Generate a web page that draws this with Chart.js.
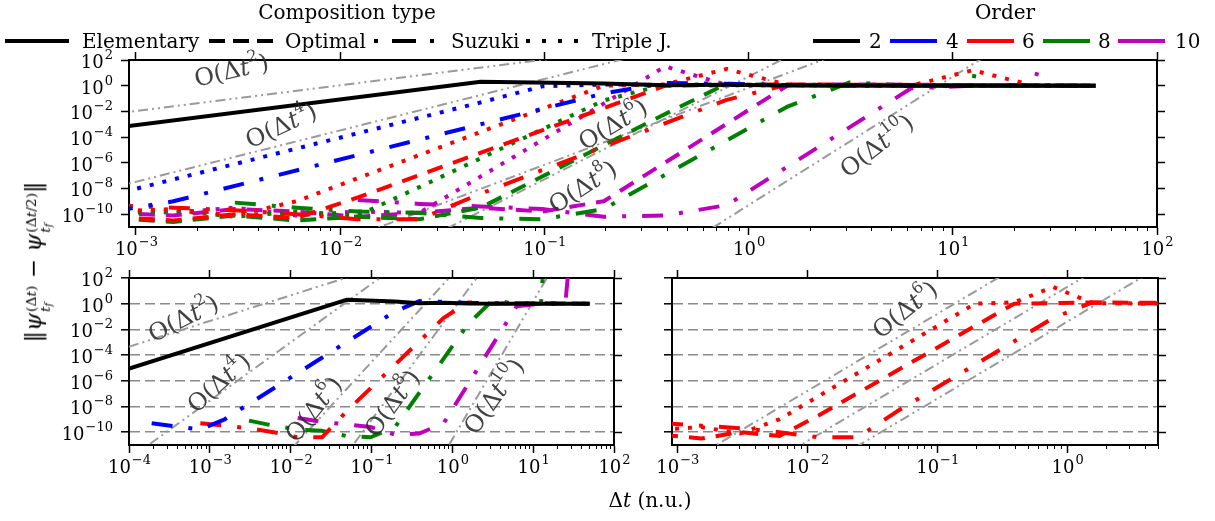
<!DOCTYPE html>
<html>
<head>
<meta charset="utf-8">
<script src="https://cdn.jsdelivr.net/npm/chart.js@4.4.1/dist/chart.umd.min.js"></script>
<style>
  body { margin: 0; background: #fff; font-family: "DejaVu Serif", "Liberation Serif", serif; }
  #wrap { position: relative; width: 1215px; height: 521px; overflow: hidden; }
  canvas { position: absolute; }
  .t { position: absolute; font-size: 20px; line-height: 1; white-space: nowrap; color: #000; }
  .h { position: absolute; }
  .st { display: inline-flex; flex-direction: column; font-size: 0.6em; line-height: 1.05; vertical-align: 0.38em; margin-left: 1px; }
  .st sub { font-size: 0.75em; vertical-align: -0.2em; }
</style>
</head>
<body>
<div id="wrap">
  <canvas id="cTop" width="1215" height="265" style="left:0;top:0"></canvas>
  <canvas id="cLeft" width="640" height="256" style="left:0;top:265px"></canvas>
  <canvas id="cRight" width="575" height="256" style="left:640px;top:265px"></canvas>

  <!-- composition legend -->
  <div class="t" style="left:347px;top:12px;transform:translate(-50%,-50%)">Composition type</div>
  <svg class="h" style="left:5px;top:36px" width="64" height="10"><line x1="0" y1="5" x2="64" y2="5" stroke="#000" stroke-width="4"/></svg>
  <div class="t" style="left:82px;top:41px;transform:translateY(-50%)">Elementary</div>
  <svg class="h" style="left:209px;top:36px" width="64" height="10"><line x1="0" y1="5" x2="64" y2="5" stroke="#000" stroke-width="4" stroke-dasharray="16 8"/></svg>
  <div class="t" style="left:285px;top:41px;transform:translateY(-50%)">Optimal</div>
  <svg class="h" style="left:374px;top:36px" width="64" height="10"><line x1="0" y1="5" x2="60" y2="5" stroke="#000" stroke-width="4" stroke-dasharray="4 14 24 14 4 20"/></svg>
  <div class="t" style="left:451px;top:41px;transform:translateY(-50%)">Suzuki</div>
  <svg class="h" style="left:526px;top:36px" width="64" height="10"><line x1="0" y1="5" x2="52" y2="5" stroke="#000" stroke-width="4" stroke-dasharray="4 12"/></svg>
  <div class="t" style="left:592px;top:41px;transform:translateY(-50%)">Triple J.</div>

  <!-- order legend -->
  <div class="t" style="left:1005px;top:12px;transform:translate(-50%,-50%)">Order</div>
  <svg class="h" style="left:813px;top:36px" width="47" height="10"><line x1="0" y1="5" x2="47" y2="5" stroke="#000000" stroke-width="4"/></svg>
  <div class="t" style="left:869px;top:41px;transform:translateY(-50%)">2</div>
  <svg class="h" style="left:890px;top:36px" width="47" height="10"><line x1="0" y1="5" x2="47" y2="5" stroke="#0000ff" stroke-width="4"/></svg>
  <div class="t" style="left:946px;top:41px;transform:translateY(-50%)">4</div>
  <svg class="h" style="left:967px;top:36px" width="47" height="10"><line x1="0" y1="5" x2="47" y2="5" stroke="#ff0000" stroke-width="4"/></svg>
  <div class="t" style="left:1022px;top:41px;transform:translateY(-50%)">6</div>
  <svg class="h" style="left:1043px;top:36px" width="47" height="10"><line x1="0" y1="5" x2="47" y2="5" stroke="#008000" stroke-width="4"/></svg>
  <div class="t" style="left:1098px;top:41px;transform:translateY(-50%)">8</div>
  <svg class="h" style="left:1118px;top:36px" width="47" height="10"><line x1="0" y1="5" x2="47" y2="5" stroke="#bf00bf" stroke-width="4"/></svg>
  <div class="t" style="left:1175px;top:41px;transform:translateY(-50%)">10</div>

  <!-- axis titles -->
  <div class="t" style="left:38px;top:262px;font-size:23px;transform:translate(-50%,-50%) rotate(-90deg)">‖<i>ψ</i><span class="st"><span>(Δ<i>t</i>)</span><span><i>t<sub>f</sub></i></span></span> − <i>ψ</i><span class="st"><span>(Δ<i>t</i>/2)</span><span><i>t<sub>f</sub></i></span></span>‖</div>
  <div class="t" style="left:650px;top:500px;transform:translate(-50%,-50%)">Δ<i>t</i> (n.u.)</div>
</div>

<script>
// time steps (n.u.) and errors
const dtElem = [9.537e-5, 0.04883, 0.1953, 0.3906, 0.7813, 1.5625, 6.25, 50];
const errElem = [7.9e-6, 2.0, 1.5, 1.1, 1.2, 1.05, 1.0, 1.0];

const dtSuz4 = [1.907e-4, 3.815e-4, 7.629e-4, 1.526e-3, 0.1953, 0.3906, 0.7813, 1.5625, 50];
const errSuz4 = [5.0e-10, 2.8e-10, 1.6e-10, 1.0e-9, 0.25, 1.6, 1.4, 1.12, 1.0];
const dtTj4 = [7.629e-4, 0.04883, 0.09766, 0.1953, 0.3906, 50];
const errTj4 = [3.2e-9, 0.05, 0.89, 1.26, 1.12, 1.0];

const dtTj6 = [7.629e-4, 1.526e-3, 3.052e-3, 6.104e-3, 0.1953, 0.3906, 0.7813, 1.5625, 6.25, 12.5, 25, 50];
const errTj6 = [1.6e-10, 2.5e-10, 7.9e-11, 1e-9, 1.0, 1.26, 20, 1.12, 1.0, 16, 1.0, 1.0];
const dtOpt6 = [7.629e-4, 1.526e-3, 3.052e-3, 6.104e-3, 0.01221, 0.3906, 0.7813, 1.5625, 50];
const errOpt6 = [6.3e-11, 3.2e-11, 1e-10, 5e-11, 2e-9, 1.0, 1.12, 1.26, 1.0];
const dtSuz6 = [7.629e-4, 1.526e-3, 3.052e-3, 6.104e-3, 0.01221, 0.02441, 0.04883, 0.7813, 1.5625, 3.125, 6.25, 50];
const errSuz6 = [5e-10, 3.2e-10, 2e-10, 1e-10, 4e-11, 4e-11, 4e-9, 0.079, 1.26, 1.0, 1.12, 1.0];

const dtTj8 = [7.629e-4, 1.526e-3, 3.052e-3, 6.104e-3, 0.01221, 0.02441, 0.1953, 0.3906, 50];
const errTj8 = [1e-10, 2e-10, 6.3e-11, 1.6e-10, 7.9e-11, 1.26e-8, 0.071, 1.26, 1.0];
const dtOpt8 = [7.629e-4, 1.526e-3, 3.052e-3, 6.104e-3, 0.01221, 0.02441, 0.04883, 0.3906, 0.7813, 1.5625, 50];
const errOpt8 = [5e-11, 2.5e-11, 7.9e-11, 3.2e-11, 6.3e-11, 4e-11, 3.2e-10, 6.3e-3, 1.41, 1.12, 1.0];
const dtSuz8 = [3.052e-3, 6.104e-3, 0.01221, 0.02441, 0.04883, 0.09766, 0.1953, 1.5625, 3.125, 6.25, 12.5, 25, 50];
const errSuz8 = [7.9e-10, 3.2e-10, 1.6e-10, 1.26e-10, 5e-11, 4e-11, 2.5e-10, 0.025, 1.78, 1.0, 1.0, 1e30, 1e60];

const dtTj10 = [7.629e-4, 1.526e-3, 3.052e-3, 6.104e-3, 0.01221, 0.02441, 0.1953, 0.3906, 0.7813, 50];
const errTj10 = [2.5e-10, 1.26e-10, 3.2e-10, 7.9e-11, 1.6e-10, 1.26e-10, 0.04, 31.6, 1.12, 1.0];
const dtOpt10 = [7.629e-4, 1.526e-3, 3.052e-3, 6.104e-3, 0.01221, 0.02441, 0.04883, 0.09766, 0.1953, 1.5625, 3.125, 50];
const errOpt10 = [1.26e-10, 7.9e-11, 2.5e-10, 1.6e-10, 6.3e-11, 1.26e-10, 3.2e-10, 1.6e-10, 1e-9, 1.12, 1.26, 1.0];
const dtSuz10 = [0.01221, 0.02441, 0.04883, 0.09766, 0.1953, 0.3906, 0.7813, 6.25, 12.5, 25, 50];
const errSuz10 = [1.26e-9, 6.3e-10, 4e-10, 2.5e-10, 6.3e-11, 7.9e-11, 5e-10, 0.63, 1.0, 1.12, 1e20];

// guide lines O(dt^p): [dt0, err0, dt1, err1]
const refTop = [[1e-4, 1.07e-4, 0.3162, 1.07e3], [3.162e-4, 3.3e-10, 0.5012, 2.09e3],
  [3.162e-3, 6.9e-16, 3.981, 2.75e3], [3.162e-3, 5e-20, 2.512, 8.3e3], [0.3162, 5e-15, 19.95, 5.0e3]];
const refLeft = [[1e-4, 4.5e-4, 0.1, 447], [1e-4, 8.1e-13, 0.1585, 275], [6.31e-3, 1.86e-13, 1.259, 912],
  [0.0398, 3.5e-13, 2.512, 708], [0.631, 2e-13, 19.95, 2512]];
const refRight = [[1e-3, 1.6e-13, 0.5012, 2512], [5.012e-3, 3.2e-13, 2.239, 2512], [0.01585, 6.3e-13, 6.31, 2512]];

// O(dt^p) labels: [dt, err, p, angle]
const notesTop = [[2.95e-3, 11.5, 2, -13], [5.19e-3, 6e-4, 4, -25], [0.219, 7.2e-4, 6, -31],
  [0.156, 1.05e-8, 8, -33], [4.3, 1.66e-5, 10, -38]];
const notesLeft = [[4.82e-4, 0.054, 2, -27], [1.34e-3, 5.5e-7, 4, -42], [0.02, 5.1e-9, 6, -52],
  [0.188, 1.5e-8, 8, -54], [3.43, 5.2e-8, 10, -55]];
const notesRight = [[0.0577, 0.27, 6, -39]];

const yRange = [1e-11, 1e2];
const yTicks = [1e2, 1, 1e-2, 1e-4, 1e-6, 1e-8, 1e-10];
const xTicksTop = [1e-3, 1e-2, 1e-1, 1, 10, 100];
const xTicksLeft = [1e-4, 1e-3, 1e-2, 1e-1, 1, 10, 100];
const xTicksRight = [1e-3, 1e-2, 1e-1, 1];

const dashOpt = [16, 11], dashSuz = [21, 16, 4, 16], dashTj = [4, 9], dashRef = [10, 4, 2, 4, 2, 4];
const FONT = '"DejaVu Serif", "Liberation Serif", serif';

function ser(dts, errs, color, dash) {
  return {
    data: dts.map(function (d, i) { return { x: d, y: errs[i] }; }),
    borderColor: color, borderWidth: 4, borderDash: dash, pointRadius: 0,
    fill: false, tension: 0, clip: 0, borderCapStyle: 'butt', borderJoinStyle: 'round'
  };
}
function refs(list) {
  return list.map(function (r) {
    var s = ser([r[0], r[2]], [r[1], r[3]], '#9a9a9a', dashRef);
    s.borderWidth = 2;
    return s;
  });
}

function minorTicks(lo, hi) {
  var out = [];
  for (var e = Math.floor(Math.log10(lo)); e < Math.ceil(Math.log10(hi)); e++) {
    for (var m = 2; m <= 9; m++) {
      var v = m * Math.pow(10, e);
      if (v >= lo && v <= hi) out.push(v);
    }
  }
  return out;
}

function setTicks(vals) {
  return function (s) { s.ticks = vals.map(function (v) { return { value: v }; }); };
}

function buildScales(xr, xMajor, sz, withGrid) {
  var tickGrid = { drawOnChartArea: false, tickLength: 8, tickWidth: 1.5, tickColor: '#000' };
  var frame = { color: '#000', width: 2 };
  return {
    x: { type: 'logarithmic', position: 'bottom', bounds: 'data', min: xr[0], max: xr[1],
         afterBuildTicks: setTicks(xMajor), afterFit: function (s) { s.height = sz.bottom; },
         ticks: { display: false }, grid: tickGrid, border: frame },
    xm: { type: 'logarithmic', axis: 'x', position: { y: yRange[0] }, bounds: 'data', min: xr[0], max: xr[1],
          afterBuildTicks: setTicks(minorTicks(xr[0], xr[1])), ticks: { display: false },
          grid: { drawOnChartArea: false, tickLength: 4, tickWidth: 1, tickColor: '#000' }, border: { display: false } },
    xt: { type: 'logarithmic', position: 'top', bounds: 'data', min: xr[0], max: xr[1],
          afterBuildTicks: setTicks(xMajor), afterFit: function (s) { s.height = sz.top; },
          ticks: { display: false }, grid: tickGrid, border: frame },
    y: { type: 'logarithmic', position: 'left', bounds: 'data', min: yRange[0], max: yRange[1],
         afterBuildTicks: setTicks(yTicks), afterFit: function (s) { s.width = sz.left; },
         ticks: { display: false },
         grid: withGrid ? {
           drawOnChartArea: true, lineWidth: 1.6, tickLength: 8, tickWidth: 1.5, tickColor: '#000',
           color: function (c) { return c.tick && c.tick.value >= 100 ? 'rgba(0,0,0,0)' : '#8a8a8a'; }
         } : tickGrid,
         border: withGrid ? { color: '#000', width: 2, dash: [10, 5] } : frame },
    yr: { type: 'logarithmic', position: 'right', bounds: 'data', min: yRange[0], max: yRange[1],
          afterBuildTicks: setTicks(yTicks), afterFit: function (s) { s.width = sz.right; },
          ticks: { display: false }, grid: tickGrid, border: frame }
  };
}

// tick labels as 10 with a raised exponent
const expTicks = {
  id: 'expTicks',
  afterDraw: function (chart, args, opts) {
    var ctx = chart.ctx;
    ctx.save();
    ctx.fillStyle = '#000';
    ctx.textAlign = 'left';
    ctx.textBaseline = 'alphabetic';
    (opts.axes || []).forEach(function (id) {
      var scale = chart.scales[id];
      scale.ticks.forEach(function (t) {
        var e = Math.round(Math.log10(t.value));
        var exp = (e < 0 ? '\u2212' : '') + Math.abs(e);
        var p = scale.getPixelForValue(t.value);
        ctx.font = '18px ' + FONT;
        var w1 = ctx.measureText('10').width;
        ctx.font = '13px ' + FONT;
        var w2 = ctx.measureText(exp).width;
        var x0, y0;
        if (scale.isHorizontal()) { x0 = p - (w1 + w2) / 2; y0 = scale.top + 28; }
        else { x0 = scale.right - 17 - w1 - w2; y0 = p + 8; }
        ctx.font = '18px ' + FONT;
        ctx.fillText('10', x0, y0);
        ctx.font = '13px ' + FONT;
        ctx.fillText(exp, x0 + w1 + 1, y0 - 9);
      });
    });
    ctx.restore();
  }
};

// rotated O(dt^p) guide labels
const refLabels = {
  id: 'refLabels',
  afterDatasetsDraw: function (chart, args, opts) {
    var ctx = chart.ctx, xs = chart.scales.x, ys = chart.scales.y;
    (opts.items || []).forEach(function (it) {
      var parts = [['O(Δ', '24px ' + FONT, 0], ['t', 'italic 24px ' + FONT, 0],
                   [String(it[2]), '16px ' + FONT, -10], [')', '24px ' + FONT, 0]];
      ctx.save();
      ctx.translate(xs.getPixelForValue(it[0]), ys.getPixelForValue(it[1]));
      ctx.rotate(it[3] * Math.PI / 180);
      ctx.fillStyle = 'rgba(45,45,45,0.9)';
      ctx.textBaseline = 'middle';
      var w = 0;
      parts.forEach(function (p) { ctx.font = p[1]; w += ctx.measureText(p[0]).width; });
      var x = -w / 2;
      parts.forEach(function (p) { ctx.font = p[1]; ctx.fillText(p[0], x, p[2]); x += ctx.measureText(p[0]).width; });
      ctx.restore();
    });
  }
};

function makeChart(id, datasets, xr, xMajor, sz, withGrid, labelAxes, notes) {
  return new Chart(document.getElementById(id), {
    type: 'line',
    data: { datasets: datasets },
    options: {
      responsive: false,
      animation: false,
      events: [],
      layout: { padding: 0, autoPadding: false },
      plugins: {
        legend: { display: false },
        tooltip: { enabled: false },
        expTicks: { axes: labelAxes },
        refLabels: { items: notes }
      },
      scales: buildScales(xr, xMajor, sz, withGrid)
    },
    plugins: [expTicks, refLabels]
  });
}

var topSets = [
  ser(dtElem, errElem, '#000000', []),
  ser(dtTj4, errTj4, '#0000ff', dashTj),
  ser(dtSuz4, errSuz4, '#0000ff', dashSuz),
  ser(dtTj6, errTj6, '#ff0000', dashTj),
  ser(dtOpt6, errOpt6, '#ff0000', dashOpt),
  ser(dtSuz6, errSuz6, '#ff0000', dashSuz),
  ser(dtTj8, errTj8, '#008000', dashTj),
  ser(dtOpt8, errOpt8, '#008000', dashOpt),
  ser(dtSuz8, errSuz8, '#008000', dashSuz),
  ser(dtTj10, errTj10, '#bf00bf', dashTj),
  ser(dtOpt10, errOpt10, '#bf00bf', dashOpt),
  ser(dtSuz10, errSuz10, '#bf00bf', dashSuz)
].concat(refs(refTop));

var leftSets = [
  ser(dtElem, errElem, '#000000', []),
  ser(dtSuz4, errSuz4, '#0000ff', dashSuz),
  ser(dtSuz6, errSuz6, '#ff0000', dashSuz),
  ser(dtSuz8, errSuz8, '#008000', dashSuz),
  ser(dtSuz10, errSuz10, '#bf00bf', dashSuz)
].concat(refs(refLeft));

var rightSets = [
  ser(dtTj6, errTj6, '#ff0000', dashTj),
  ser(dtOpt6, errOpt6, '#ff0000', dashOpt),
  ser(dtSuz6, errSuz6, '#ff0000', dashSuz)
].concat(refs(refRight));

makeChart('cTop', topSets, [9.25e-4, 100], xTicksTop, { left: 129, right: 58, top: 60, bottom: 38 }, false, ['x', 'y'], notesTop);
makeChart('cLeft', leftSets, [1e-4, 100], xTicksLeft, { left: 129, right: 26, top: 13, bottom: 76 }, true, ['x', 'y'], notesLeft);
makeChart('cRight', rightSets, [9.1e-4, 5.0], xTicksRight, { left: 32, right: 57, top: 13, bottom: 76 }, true, ['x'], notesRight);
</script>
</body>
</html>
